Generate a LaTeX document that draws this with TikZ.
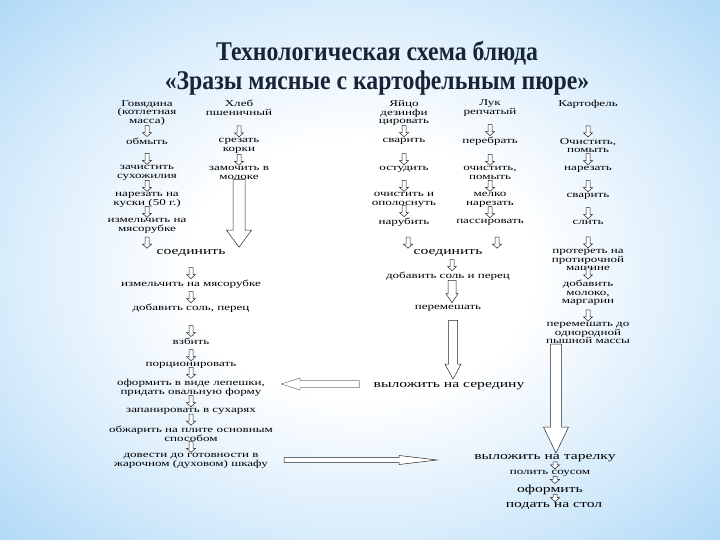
\documentclass[tikz,border=0pt]{standalone}
\usepackage{fontspec}
\setmainfont{Liberation Serif}
\newfontfamily\diafont[FakeStretch=1.45]{Liberation Serif}
\newfontfamily\titlefont[FakeStretch=0.88]{Liberation Serif}
\usetikzlibrary{calc,positioning}

\definecolor{bgblue}{RGB}{130,195,242}
\definecolor{titleblue}{RGB}{25,35,55}
\pgfdeclareradialshading{bgshade}{\pgfpoint{0bp}{0bp}}{color(0bp)=(white); color(12bp)=(white); color(26bp)=(bgblue!35!white); color(38bp)=(bgblue!70!white); color(46bp)=(bgblue)}

% hollow block arrow: [style]{start}{tip}{shaft half width}{head half width}{head length}
\newcommand{\blockarrow}[6][]{%
  \path (#2) coordinate (bs) (#3) coordinate (bt) ($(bt)!#6!(bs)$) coordinate (bh);
  \draw[hollow,#1] ($(bs)!#4!90:(bt)$) -- ($(bh)!#4!90:(bt)$) -- ($(bh)!#5!90:(bt)$) -- (bt)
    -- ($(bh)!#5!-90:(bt)$) -- ($(bh)!#4!-90:(bt)$) -- ($(bs)!#4!-90:(bt)$) -- cycle;
}
% small step arrow ending on top of the next node
\newcommand{\steparrow}[3][11]{%
  \path (#2) coordinate (sa0) (sa0 |- #3.north) ++(0,-1) coordinate (sa2) ++(0,-#1) coordinate (sa1);
  \blockarrow{sa1}{sa2}{2pt}{4.5pt}{4pt}
}

\begin{document}
\begin{tikzpicture}[x=1pt,y=-1pt,
    txt/.style={font=\diafont\fontsize{9}{8.7}\selectfont, align=center, inner sep=0pt},
    bigtxt/.style={font=\diafont\fontsize{10.8}{10}\selectfont, align=center, inner sep=0pt},
    title/.style={font=\titlefont\bfseries\fontsize{27}{29.5}\selectfont, text=titleblue, align=center, inner sep=0pt},
    hollow/.style={draw=black!85, line width=0.5pt, fill=white}
]

\shade[shading=bgshade] (0,0) rectangle (720,540);

\node[title] (title) at (377,68) {Технологическая схема блюда\\«Зразы мясные с картофельным пюре»};

% meat
\node[txt] (g1) at (147,113) {Говядина\\(котлетная\\масса)};
\node[txt] (g2) at (147,141) {обмыть};
\node[txt] (g3) at (147,173) {зачистить\\сухожилия};
\node[txt] (g4) at (147,200) {нарезать на\\куски (50 г.)};
\node[txt] (g5) at (147,226) {измельчить на\\мясорубке};

% bread
\node[txt] (h1) at (239,108) {Хлеб\\пшеничный};
\node[txt] (h2) at (239,145.5) {срезать\\корки};
\node[txt] (h3) at (239,173) {замочить в\\молоке};

\node[bigtxt] (s1) at (191,253) {соединить};
\node[txt] (m1) at (191,284) {измельчить на мясорубке};
\node[txt] (m2) at (191,308) {добавить соль, перец};
\node[txt] (m3) at (191,341) {взбить};
\node[txt] (m4) at (191,365) {порционировать};
\node[txt] (m5) at (191,388) {оформить в виде лепешки,\\придать овальную форму};
\node[txt] (m6) at (191,411) {запанировать в сухарях};
\node[txt] (m7) at (191,434) {обжарить на плите основным\\способом};
\node[txt] (m8) at (191,461) {довести до готовности в\\жарочном (духовом) шкафу};

% egg
\node[txt] (e1) at (404,113) {Яйцо\\дезинфи\\цировать};
\node[txt] (e2) at (404,141) {сварить};
\node[txt] (e3) at (404,169) {остудить};
\node[txt] (e4) at (404,200) {очистить и\\ополоснуть};
\node[txt] (e5) at (404,222) {нарубить};

% onion
\node[txt] (l1) at (490,108) {Лук\\репчатый};
\node[txt] (l2) at (490,141) {перебрать};
\node[txt] (l3) at (490,173) {очистить,\\помыть};
\node[txt] (l4) at (490,200) {мелко\\нарезать};
\node[txt] (l5) at (490,222) {пассировать};

\node[bigtxt] (s2) at (448,253) {соединить};
\node[txt] (p1) at (448,276) {добавить соль и перец};
\node[txt] (p2) at (448,308) {перемешать};
\node[bigtxt] (v1) at (449,386) {выложить на середину};

% potato
\node[txt] (k1) at (588,104) {Картофель};
\node[txt] (k2) at (588,145.5) {Очистить,\\помыть};
\node[txt] (k3) at (588,169) {нарезать};
\node[txt] (k4) at (588,196) {сварить};
\node[txt] (k5) at (588,222) {слить};
\node[txt] (k6) at (588,260) {протереть на\\протирочной\\машине};
\node[txt] (k7) at (588,293) {добавить\\молоко,\\маргарин};
\node[txt] (k8) at (588,333) {перемешать до\\однородной\\пышной массы};

\node[bigtxt] (t1) at (545,458) {выложить на тарелку};
\node[txt, below=8pt of t1.south, anchor=north, xshift=5pt] (t2) {полить соусом};
\node[bigtxt, below=8pt of t2.south, anchor=north] (t3) {оформить};
\node[bigtxt, below=8pt of t3.south, anchor=north, xshift=4pt] (t4) {подать на стол};

% step arrows
\steparrow{g1.south}{g2}
\steparrow{g2.south}{g3}
\steparrow{g3.south}{g4}
\steparrow{g4.south}{g5}
\steparrow{g5.south}{s1}
\steparrow{h1.south}{h2}
\steparrow{h2.south}{h3}
\blockarrow{h3.south}{$(h3.south |- s1.north)+(0,-2)$}{6pt}{12.5pt}{17pt}

\steparrow{s1.south}{m1}
\steparrow{m1.south}{m2}
\steparrow{m2.south}{m3}
\steparrow{m3.south}{m4}
\steparrow{m4.south}{m5}
\steparrow{m5.south}{m6}
\steparrow{m6.south}{m7}
\steparrow{m7.south}{m8}

\steparrow{e1.south}{e2}
\steparrow{e2.south}{e3}
\steparrow{e3.south}{e4}
\steparrow{e4.south}{e5}
\steparrow{$(e5.south)+(4,0)$}{s2}
\steparrow{l1.south}{l2}
\steparrow{l2.south}{l3}
\steparrow{l3.south}{l4}
\steparrow{l4.south}{l5}
\steparrow{$(l5.south)+(7,0)$}{s2}
\steparrow{$(s2.south)+(4,0)$}{p1}
\blockarrow{$(p1.south)+(4,0)$}{$(p1.south |- p2.north)+(4,-2)$}{4pt}{6pt}{9pt}
\blockarrow{$(p2.south)+(5,9)$}{$(p2.south |- v1.north)+(5,-3)$}{4.5pt}{8pt}{15pt}

\steparrow{k1.south}{k2}
\steparrow{k2.south}{k3}
\steparrow{k3.south}{k4}
\steparrow{k4.south}{k5}
\steparrow{k5.south}{k6}
\steparrow{k6.south}{k7}
\steparrow{k7.south}{k8}
\blockarrow{$(k8.south)+(-32,0)$}{$(k8.south |- t1.north)+(-32,-1)$}{5.5pt}{12.5pt}{26pt}

\steparrow[7]{$(t1.south)+(10,0)$}{t2}
\steparrow[7]{$(t2.south)+(5,0)$}{t3}
\steparrow[7]{$(t3.south)+(5,0)$}{t4}

% cross links
\blockarrow[draw=black!55]{$(v1.west)+(-14,-2)$}{$(v1.west -| m5.east)+(16,-2)$}{3.5pt}{6pt}{19pt}
\blockarrow{$(m8.east)+(16,-1)$}{$(m8.east -| t1.west)+(-37,-1)$}{2.5pt}{4.5pt}{38pt}

\end{tikzpicture}
\end{document}
